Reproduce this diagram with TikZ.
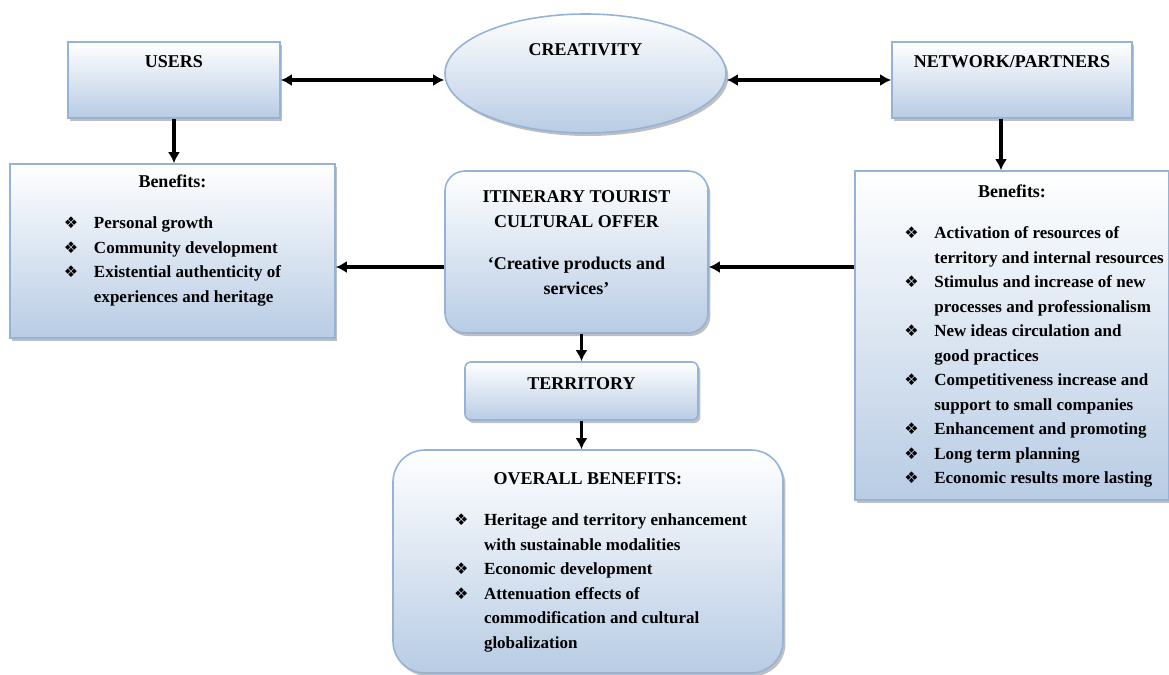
\documentclass[tikz,border=0pt]{standalone}
\usepackage{fontspec}
\setmainfont{Liberation Serif}
\newfontfamily\dingfont{DejaVu Sans}
\usepackage{tikz}
\usetikzlibrary{arrows.meta, shapes, shadows, positioning, calc}
\definecolor{boxline}{RGB}{149, 179, 215}
\definecolor{boxfill}{RGB}{184, 204, 228}
\newcommand{\bul}{{\dingfont\mdseries\fontsize{8}{8}\selectfont ❖}}
\tikzset{
    shadednode/.style = {draw=boxline, line width=0.8pt, top color=white, bottom color=boxfill,
      drop shadow={shadow xshift=1.2pt, shadow yshift=-1.5pt, fill=black!50, opacity=0.5},
      inner sep=0pt, node distance=0em},
    boxnode/.style = {shadednode, rectangle, font=\fontsize{9}{12.5}\selectfont\bfseries},
    ellipsenode/.style = {shadednode, ellipse, font=\fontsize{9}{12.5}\selectfont\bfseries},
    listnode/.style = {shadednode, rectangle, font=\fontsize{8.5}{12.25}\selectfont\bfseries},
    connect/.style = {black, line width=1.6pt, -{Latex[length=5.5pt, width=6pt]}},
    both/.style = {black, line width=1.6pt, {Latex[length=5.5pt, width=6pt]}-{Latex[length=5.5pt, width=6pt]}}
}

\begin{document}
\begin{tikzpicture}
    \useasboundingbox (-292.75pt, 36.75pt) rectangle (291.75pt, -300.75pt);

    \node[ellipsenode, name=Creativity, minimum width=140.5pt, minimum height=59.5pt, text depth=24pt] {CREATIVITY};
    \node[boxnode, name=Users, below of=Creativity, xshift=-20.575em, yshift=-0.325em,
      minimum width=106pt, minimum height=38pt, text depth=18pt] {USERS};
    \node[boxnode, name=Network, below of=Creativity, xshift=21.325em, yshift=-0.325em,
      minimum width=120pt, minimum height=38pt, text depth=18pt] {NETWORK/PARTNERS};
    \draw[both] (Users.east) -- (Users.east -| Creativity.west);
    \draw[both] (Creativity.east |- Network.west) -- (Network.west);

    \node[boxnode, rounded corners=10pt, name=Itinerary, below of=Creativity, xshift=-0.45em, yshift=-8.925em,
      minimum width=131.5pt, minimum height=81pt] {\begin{tabular}{@{}c@{}}
        ITINERARY TOURIST\\
        CULTURAL OFFER\\[8.5pt]
        ‘Creative products and\\
        services’\\[8.5pt]
      \end{tabular}};

    \node[listnode, name=LeftBen, below of=Users, xshift=-0.075em, yshift=-8.55em,
      minimum width=162.5pt, minimum height=87pt] {\begin{tabular}{@{}p{15pt}@{}l@{}}
        \multicolumn{2}{@{}c@{}}{\fontsize{9}{12.25}\selectfont Benefits:}\\[8.5pt]
        \bul & Personal growth\\
        \bul & Community development\\
        \bul & Existential authenticity of\\
             & experiences and heritage\\[11pt]
      \end{tabular}};
    \draw[connect] (Users.south) -- (Users.south |- LeftBen.north);

    \node[listnode, name=RightBen, below of=Network, yshift=-12.775em,
      minimum width=157pt, minimum height=164.5pt] {\begin{tabular}{@{\hspace{22pt}}p{15pt}@{}l@{}}
        \multicolumn{2}{@{}c@{}}{\fontsize{9}{12.25}\selectfont Benefits:}\\[8.5pt]
        \bul & Activation of resources of\\
             & territory and internal resources\\
        \bul & Stimulus and increase of new\\
             & processes and professionalism\\
        \bul & New ideas circulation and\\
             & good practices\\
        \bul & Competitiveness increase and\\
             & support to small companies\\
        \bul & Enhancement and promoting\\
        \bul & Long term planning\\
        \bul & Economic results more lasting
      \end{tabular}};
    \draw[connect] ([xshift=-5.5pt]Network.south) -- ([xshift=-5.5pt]Network.south |- RightBen.north);

    \coordinate (midrow) at ([yshift=-7.5pt]Itinerary.center);
    \draw[connect] (RightBen.west |- midrow) -- (Itinerary.east |- midrow);
    \draw[connect] (Itinerary.west |- midrow) -- (LeftBen.east |- midrow);

    \node[boxnode, rounded corners=3pt, name=Territory, below of=Itinerary, xshift=0.25em, yshift=-6.95em,
      minimum width=116.5pt, minimum height=29pt, text depth=7pt] {TERRITORY};
    \draw[connect] (Itinerary.south -| Territory.north) -- (Territory.north);

    \node[listnode, rounded corners=16pt, name=Overall, below of=Territory, xshift=0.325em, yshift=-8.525em,
      minimum width=195pt, minimum height=111.5pt] {\begin{tabular}{@{\hspace{12.5pt}}p{15pt}@{}l@{}}
        \multicolumn{2}{@{}c@{}}{\fontsize{9}{12.25}\selectfont OVERALL BENEFITS:}\\[8.5pt]
        \bul & Heritage and territory enhancement\\
             & with sustainable modalities\\
        \bul & Economic development\\
        \bul & Attenuation effects of\\
             & commodification and cultural\\
             & globalization
      \end{tabular}};
    \draw[connect] (Territory.south) -- (Territory.south |- Overall.north);
\end{tikzpicture}
\end{document}
